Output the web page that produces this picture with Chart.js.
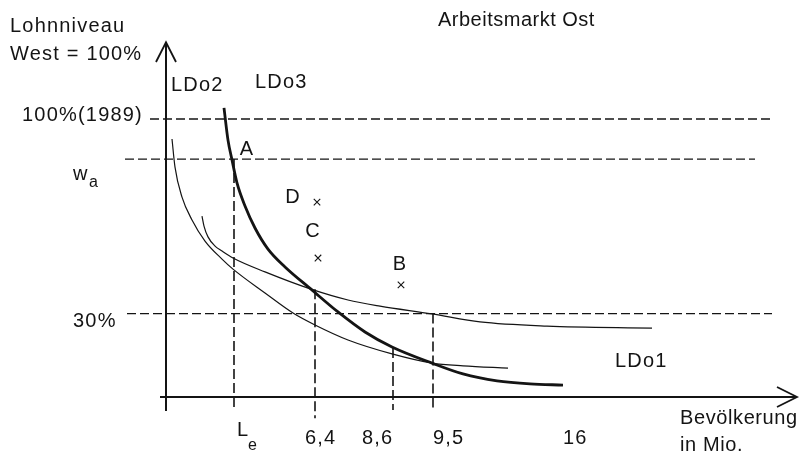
<!DOCTYPE html>
<html>
<head>
<meta charset="utf-8">
<script src="https://cdn.jsdelivr.net/npm/chart.js@4"></script>
<style>
  body { margin: 0; background: #fff; }
  #wrap { width: 808px; height: 452px; }
</style>
</head>
<body>
<div id="wrap"><canvas id="lohn"></canvas></div>
<script>
// schematic units: x = position along the population axis, y = wage level in % of West
const ldo3 = [[5.8,104.0],[6.2,92.4],[6.6,85.3],[7.1,77.0],[7.9,68.7],[8.9,60.8],[10.2,53.2],
              [11.9,46.8],[14.5,38.8],[17.2,30.6],[19.9,23.4],[22.6,18.0],[26.6,12.2],[29.7,8.3],
              [33.1,5.8],[36.4,4.7],[39.7,4.3]];
const ldo2 = [[0.6,92.8],[0.9,82.7],[1.6,71.9],[2.6,63.7],[3.9,56.1],[5.6,49.6],[6.7,46.0],
              [9.9,37.4],[12.7,30.2],[14.9,25.9],[18.2,20.5],[22.6,15.5],[26.6,12.2],[29.7,11.2],
              [34.2,10.4]];
const ldo1 = [[3.6,65.1],[3.8,61.5],[4.2,57.6],[4.9,54.3],[5.6,52.5],[6.7,50.0],[9.9,45.0],
              [14.5,38.8],[18.2,34.9],[21.4,32.7],[26.6,29.9],[31.4,27.0],[38.1,25.5],[48.6,24.8]];

// horizontal guide levels (%), and where each dashed line runs
const levels = [100, 85.6, 30];
const levelFrom = [-1.6, -4.1, -3.9];
const levelTo = [60.6, 58.9, 60.6];

// vertical guides: L_e, 6,4, 8,6, 9,5
const guideX = [6.8, 14.9, 22.7, 26.7];
const guideTop = [85.6, 38.8, 17.6, 30];
const guideBottom = [-4.7, -7.6, -4.7, -5];

const pointNames = ['D', 'C', 'B'];
const pointX = [15.1, 15.2, 23.5];
const pointY = [70.1, 50.0, 40.3];

const xTickText = ['6,4', '8,6', '9,5', '16'];
const xTickAt = [13.9, 19.6, 26.7, 39.7];
const yTickText = ['100%(1989)', '30%'];
const yTickAt = [101.4, 27.0];

const toXY = arr => arr.map(p => ({ x: p[0], y: p[1] }));
const ink = '#141414';

const datasets = [];
function addLine(data, width, dash) {
    datasets.push({
        type: 'line', data: data, borderColor: ink, borderWidth: width,
        borderDash: dash || [], pointRadius: 0, tension: 0, fill: false
    });
}

// axes with arrows
addLine(toXY([[0, -5], [0, 127.6]]), 2);
addLine(toXY([[-1.0, 120.5], [0, 127.6], [1.0, 120.5]]), 1.8);
addLine(toXY([[-0.6, 0], [63.1, 0]]), 2);
addLine(toXY([[61.1, 3.6], [63.1, 0], [61.1, -3.6]]), 1.8);

levels.forEach((lv, i) => addLine([{ x: levelFrom[i], y: lv }, { x: levelTo[i], y: lv }], 1.3, [9, 4]));
guideX.forEach((gx, i) => addLine([{ x: gx, y: guideTop[i] }, { x: gx, y: guideBottom[i] }], 1.6, [10, 4]));

[[ldo1, 1.2], [ldo2, 1.2], [ldo3, 2.8]].forEach(c => {
    datasets.push({
        type: 'line', data: toXY(c[0]), borderColor: ink, borderWidth: c[1],
        pointRadius: 0, cubicInterpolationMode: 'monotone', fill: false
    });
});

datasets.push({
    type: 'scatter',
    data: pointX.map((x, i) => ({ x: x, y: pointY[i] })),
    pointStyle: 'crossRot', pointRadius: 4.6, borderWidth: 1.1,
    borderColor: ink, backgroundColor: ink
});

// text labels, in data coordinates (left edge, vertical middle)
const labels = [
    { t: 'Lohnniveau', x: -15.6, y: 133.2 },
    { t: 'West = 100%', x: -15.6, y: 123.2 },
    { t: 'Arbeitsmarkt Ost', x: 27.2, y: 135.3, sp: '0.5px' },
    { t: 'LDo2', x: 0.5, y: 111.9 },
    { t: 'LDo3', x: 8.9, y: 113.3 },
    { t: 'LDo1', x: 44.9, y: 12.9 },
    { t: 'A', x: 8.1, y: 89.2, c: true },
    { t: 'B', x: 23.4, y: 47.8, c: true },
    { t: 'C', x: 14.7, y: 59.4, c: true },
    { t: 'D', x: 12.7, y: 71.9, c: true },
    { t: 'w', x: -9.3, y: 79.9 },
    { t: 'a', x: -7.7, y: 77.0, font: '16px "Liberation Sans"' },
    { t: 'L', x: 7.1, y: -12.2 },
    { t: 'e', x: 8.2, y: -17.3, font: '16px "Liberation Sans"' },
    { t: 'Bevölkerung', x: 51.4, y: -7.6, sp: '0.6px' },
    { t: 'in Mio.', x: 51.4, y: -17.3, sp: '0.6px' },
];
xTickText.forEach((t, i) => labels.push({ t: t, x: xTickAt[i], y: -15.0 }));
yTickText.forEach((t, i) => labels.push({ t: t, x: i === 0 ? -14.4 : -9.3, y: yTickAt[i] }));

const textPlugin = {
    id: 'texts',
    afterDatasetsDraw(chart) {
        const c = chart.ctx, sx = chart.scales.x, sy = chart.scales.y;
        c.save();
        c.fillStyle = ink;
        c.textBaseline = 'middle';
        labels.forEach(l => {
            c.font = l.font || '20px "Liberation Sans"';
            c.letterSpacing = l.sp || '1.2px';
            c.textAlign = l.c ? 'center' : 'left';
            c.fillText(l.t, sx.getPixelForValue(l.x), sy.getPixelForValue(l.y));
        });
        c.restore();
    }
};

new Chart(document.getElementById('lohn'), {
    data: { datasets: datasets },
    options: {
        responsive: true,
        maintainAspectRatio: false,
        animation: false,
        layout: { padding: 0, autoPadding: false },
        plugins: { legend: { display: false }, tooltip: { enabled: false } },
        scales: {
            x: { type: 'linear', min: -16.6, max: 64.2, display: false },
            y: { type: 'linear', min: -19.78, max: 142.81, display: false }
        }
    },
    plugins: [textPlugin]
});
</script>
</body>
</html>
